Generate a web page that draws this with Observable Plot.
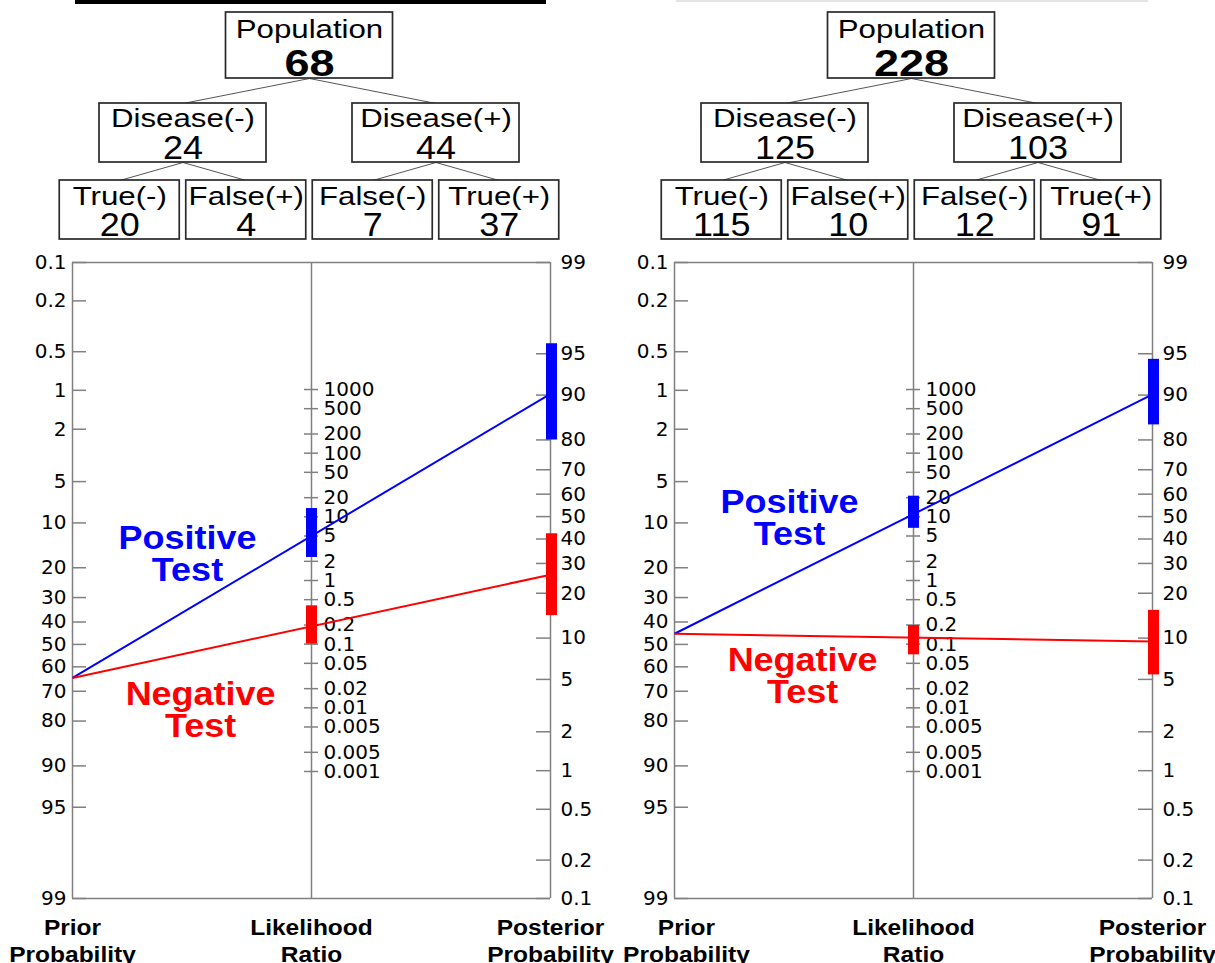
<!DOCTYPE html>
<html>
<head>
<meta charset="utf-8">
<script src="https://cdn.jsdelivr.net/npm/d3@7"></script>
<script src="https://cdn.jsdelivr.net/npm/@observablehq/plot@0.6"></script>
<style>
  body { margin: 0; background: #fff; }
  #wrap { position: relative; width: 1215px; height: 963px; overflow: hidden; background: #fff; }
  .panel { position: absolute; top: 0; width: 613px; height: 963px; }
  .panel svg { position: absolute; left: 0; background: transparent; overflow: visible; }
  .bar { position: absolute; top: 0; }
</style>
</head>
<body>
<div id="wrap"></div>
<script>
// ---------------- data ----------------
const population = [68, 228];
const diseaseNeg = [24, 125];
const diseasePos = [44, 103];
const trueNeg = [20, 115];
const falsePos = [4, 10];
const falseNeg = [7, 12];
const truePos = [37, 91];

const priorProb = [64.7, 45.2];          // %
const lrPositive = [5.05, 11.0];
const lrPositiveLow = [2.3, 6.6];
const lrPositiveHigh = [13.5, 21.1];
const postPositive = [90.2, 90.1];       // %
const postPositiveLow = [80.0, 84.0];
const postPositiveHigh = [95.8, 94.5];
const lrNegative = [0.19, 0.127];
const lrNegativeLow = [0.10, 0.068];
const lrNegativeHigh = [0.40, 0.196];
const postNegative = [25.9, 9.45];       // %
const postNegativeLow = [14.3, 5.4];
const postNegativeHigh = [42.3, 15.5];

const priorTicks = [0.1, 0.2, 0.5, 1, 2, 5, 10, 20, 30, 40, 50, 60, 70, 80, 90, 95, 99];
const priorTickLabels = ["0.1", "0.2", "0.5", "1", "2", "5", "10", "20", "30", "40", "50", "60", "70", "80", "90", "95", "99"];
const posteriorTicks = [99, 95, 90, 80, 70, 60, 50, 40, 30, 20, 10, 5, 2, 1, 0.5, 0.2, 0.1];
const posteriorTickLabels = ["99", "95", "90", "80", "70", "60", "50", "40", "30", "20", "10", "5", "2", "1", "0.5", "0.2", "0.1"];
const lrTicks = [1000, 500, 200, 100, 50, 20, 10, 5, 2, 1, 0.5, 0.2, 0.1, 0.05, 0.02, 0.01, 0.005, 0.002, 0.001];
const lrTickLabels = ["1000", "500", "200", "100", "50", "20", "10", "5", "2", "1", "0.5", "0.2", "0.1", "0.05", "0.02", "0.01", "0.005", "0.005", "0.001"];

const axisTitles = ["Prior\nProbability", "Likelihood\nRatio", "Posterior\nProbability"];
const positiveLabel = "Positive\nTest";
const negativeLabel = "Negative\nTest";
const positiveLabelAt = [16.6, 9.36];    // level on the prior scale (%) where the label sits
const negativeLabelAt = [76.9, 64.3];

const nodeLabels = ["Population", "Disease(-)", "Disease(+)", "True(-)", "False(+)", "False(-)", "True(+)"];
const nodeLevel = [0, 1, 1, 2, 2, 2, 2];
const nodeSlot = [0, -0.5, 0.5, -0.75, -0.25, 0.25, 0.75];
const nodeParent = [null, 0, 0, 1, 1, 2, 2];

// ---------------- layout / style ----------------
const SANS = "'Liberation Sans', Arial, sans-serif";
const TICKFONT = "'DejaVu Sans', Verdana, sans-serif";
const BLUE = "#0000ff", RED = "#ff0000", GRID = "#808080";
const panelLeft = [0, 602];
const axisTitleX = [[0, 1, 2], [0.05, 1, 2]];

const boxTop = [12, 103, 180];
const boxBottom = [78, 162, 239];
const boxWidth = [167, 167, 120];
const labelY = [29, 118.4, 195.7];
const countY = [63.5, 147.7, 225.4];
const treeRange = [56, 562];
const treeUnitPerPx = 2 / (treeRange[1] - treeRange[0]);

const nomoXRange = [72, 550];
const xUnitPerPx = 2 / (nomoXRange[1] - nomoXRange[0]);

// horizontal stretch of the Arial-like texts, keyed by font size
const stretch = {26: 1.2, 33: 1.09, 36: 1.25, 22.5: 1.09};

// nomogram geometry: y is measured in prior-logit units
const logit = p => Math.log(p / (100 - p));
const L0 = logit(0.1), L1 = logit(99);
const uPrior = p => logit(p);
const uPost = p => L0 + L1 - logit(p);
const uLR = r => (L0 + L1) / 2 - Math.log(r) / 2;

function treePlot(k) {
  const counts = [population[k], diseaseNeg[k], diseasePos[k], trueNeg[k], falsePos[k], falseNeg[k], truePos[k]];
  const nodes = nodeLabels.map((label, i) => ({label, count: counts[i], level: nodeLevel[i], slot: nodeSlot[i], parent: nodeParent[i]}));
  const links = nodes.filter(d => d.parent !== null).map(d => ({from: nodes[d.parent], to: d}));
  return Plot.plot({
    width: 613, height: 250, margin: 0,
    x: {domain: [-1, 1], range: treeRange, axis: null},
    y: {domain: [0, 250], range: [0, 250], axis: null},
    style: {background: "transparent", overflow: "visible"},
    marks: [
      Plot.link(links, {x1: d => d.from.slot, y1: d => boxBottom[d.from.level], x2: d => d.to.slot, y2: d => boxTop[d.to.level], stroke: "#555", strokeWidth: 1}),
      Plot.rect(nodes, {
        x1: d => d.slot - boxWidth[d.level] / 2 * treeUnitPerPx,
        x2: d => d.slot + boxWidth[d.level] / 2 * treeUnitPerPx,
        y1: d => boxTop[d.level], y2: d => boxBottom[d.level],
        fill: "white", stroke: "#2a2a2a", strokeWidth: 1.7
      }),
      Plot.text(nodes, {x: "slot", y: d => labelY[d.level], text: "label", fontSize: 26, fontFamily: SANS, fill: "black"}),
      Plot.text(nodes.filter(d => d.level > 0), {x: "slot", y: d => countY[d.level], text: d => String(d.count), fontSize: 33, fontFamily: SANS, fill: "black"}),
      Plot.text(nodes.filter(d => d.level === 0), {x: "slot", y: d => countY[d.level], text: d => String(d.count), fontSize: 36, fontWeight: "bold", fontFamily: SANS, fill: "black"})
    ]
  });
}

function nomoPlot(k) {
  const tests = [
    {prior: priorProb[k], post: postPositive[k], lr: lrPositive[k], lrLo: lrPositiveLow[k], lrHi: lrPositiveHigh[k], pLo: postPositiveLow[k], pHi: postPositiveHigh[k], color: BLUE, label: positiveLabel, at: positiveLabelAt[k], lx: 0.481},
    {prior: priorProb[k], post: postNegative[k], lr: lrNegative[k], lrLo: lrNegativeLow[k], lrHi: lrNegativeHigh[k], pLo: postNegativeLow[k], pHi: postNegativeHigh[k], color: RED, label: negativeLabel, at: negativeLabelAt[k], lx: 0.536}
  ];
  const titles = axisTitles.map((t, i) => ({t, x: axisTitleX[k][i]}));
  return Plot.plot({
    width: 613, height: 713, margin: 0,
    x: {domain: [0, 2], range: nomoXRange, axis: null},
    y: {domain: [L0, L1], range: [12, 648], axis: null},
    style: {background: "transparent", overflow: "visible"},
    marks: [
      // frame and axis lines
      Plot.ruleY([L0, L1], {x1: 0, x2: 2, stroke: GRID, strokeWidth: 1.5}),
      Plot.ruleX([0, 1, 2], {y1: L0, y2: L1, stroke: GRID, strokeWidth: 1.5}),
      // ticks
      Plot.ruleY(priorTicks, {y: d => uPrior(d), x1: 0, x2: 14 * xUnitPerPx, stroke: GRID, strokeWidth: 1.5}),
      Plot.ruleY(posteriorTicks, {y: d => uPost(d), x1: 2 - 14 * xUnitPerPx, x2: 2, stroke: GRID, strokeWidth: 1.5}),
      Plot.ruleY(lrTicks, {y: d => uLR(d), x1: 1 - 7 * xUnitPerPx, x2: 1 + 7 * xUnitPerPx, stroke: GRID, strokeWidth: 1.5}),
      // tick labels
      Plot.text(priorTicks, {x: 0, y: d => uPrior(d), text: (d, i) => priorTickLabels[i], textAnchor: "end", dx: -6, fontSize: 20, fontFamily: TICKFONT, fill: "black"}),
      Plot.text(posteriorTicks, {x: 2, y: d => uPost(d), text: (d, i) => posteriorTickLabels[i], textAnchor: "start", dx: 10, fontSize: 20, fontFamily: TICKFONT, fill: "black"}),
      Plot.text(lrTicks, {x: 1, y: d => uLR(d), text: (d, i) => lrTickLabels[i], textAnchor: "start", dx: 12, fontSize: 20, fontFamily: TICKFONT, fill: "black"}),
      // nomogram lines
      Plot.link(tests, {x1: 0, y1: d => uPrior(d.prior), x2: 2, y2: d => uPost(d.post), stroke: d => d.color, strokeWidth: 2}),
      // confidence bars
      Plot.ruleX(tests, {x: 1, y1: d => uLR(d.lrLo), y2: d => uLR(d.lrHi), stroke: d => d.color, strokeWidth: 11}),
      Plot.ruleX(tests, {x: 2, dx: 1, y1: d => uPost(d.pLo), y2: d => uPost(d.pHi), stroke: d => d.color, strokeWidth: 11}),
      // test labels
      Plot.text(tests, {x: d => d.lx, y: d => uPrior(d.at), text: d => d.label, fill: d => d.color, fontSize: 33, fontWeight: "bold", fontFamily: SANS, lineHeight: 0.96}),
      // axis titles
      Plot.text(titles, {x: "x", y: L1, dy: 17, text: "t", lineAnchor: "top", fontSize: 22.5, fontWeight: "bold", fontFamily: SANS, lineHeight: 1.2, fill: "black"})
    ]
  });
}

function applyStretch(svg) {
  for (const t of svg.querySelectorAll("text")) {
    const g = t.closest("[font-size]");
    if (!g) continue;
    const f = stretch[parseFloat(g.getAttribute("font-size"))];
    if (!f) continue;
    const parts = t.querySelectorAll("tspan");
    const targets = parts.length ? Array.from(parts) : [t];
    for (const s of targets) {
      const w = s.getComputedTextLength();
      s.setAttribute("textLength", (w * f).toFixed(2));
      s.setAttribute("lengthAdjust", "spacingAndGlyphs");
    }
  }
}

const wrap = document.getElementById("wrap");
for (let k = 0; k < 2; k++) {
  const panel = document.createElement("div");
  panel.className = "panel";
  panel.style.left = panelLeft[k] + "px";
  const bar = document.createElement("div");
  bar.className = "bar";
  if (k === 0) { bar.style.left = "75px"; bar.style.width = "471px"; bar.style.height = "4px"; bar.style.background = "#000"; }
  else { bar.style.left = "74px"; bar.style.width = "472px"; bar.style.height = "2px"; bar.style.background = "#e4e4e4"; }
  panel.appendChild(bar);
  const tree = treePlot(k);
  tree.style.top = "0px";
  const nomo = nomoPlot(k);
  nomo.style.top = "250px";
  panel.appendChild(tree);
  panel.appendChild(nomo);
  wrap.appendChild(panel);
  applyStretch(tree);
  applyStretch(nomo);
}
</script>
</body>
</html>
